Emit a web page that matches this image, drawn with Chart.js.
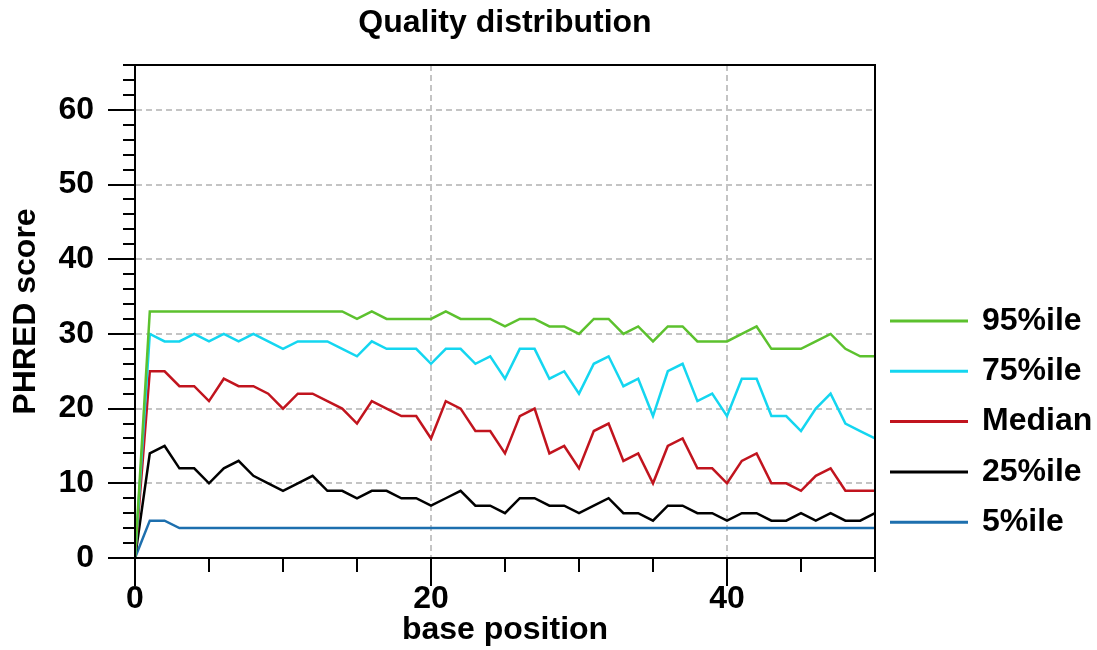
<!DOCTYPE html>
<html>
<head>
<meta charset="utf-8">
<script src="https://cdn.jsdelivr.net/npm/chart.js@4.4.0/dist/chart.umd.min.js"></script>
<style>
  body { margin: 0; background: #fff; }
  canvas { display: block; }
</style>
</head>
<body>
<canvas id="qualityChart" width="1097" height="650"></canvas>
<script>
// base positions (x axis)
const positions = [0, 1, 2, 3, 4, 5, 6, 7, 8, 9, 10, 11, 12, 13, 14, 15, 16, 17, 18, 19, 20,
  21, 22, 23, 24, 25, 26, 27, 28, 29, 30, 31, 32, 33, 34, 35, 36, 37, 38, 39, 40,
  41, 42, 43, 44, 45, 46, 47, 48, 49, 50];

// PHRED percentiles per position
const p95 = [0, 33, 33, 33, 33, 33, 33, 33, 33, 33, 33, 33, 33, 33, 33, 32, 33, 32, 32, 32, 32,
  33, 32, 32, 32, 31, 32, 32, 31, 31, 30, 32, 32, 30, 31, 29, 31, 31, 29, 29, 29,
  30, 31, 28, 28, 28, 29, 30, 28, 27, 27];
const p75 = [0, 30, 29, 29, 30, 29, 30, 29, 30, 29, 28, 29, 29, 29, 28, 27, 29, 28, 28, 28, 26,
  28, 28, 26, 27, 24, 28, 28, 24, 25, 22, 26, 27, 23, 24, 19, 25, 26, 21, 22, 19,
  24, 24, 19, 19, 17, 20, 22, 18, 17, 16];
const median = [0, 25, 25, 23, 23, 21, 24, 23, 23, 22, 20, 22, 22, 21, 20, 18, 21, 20, 19, 19, 16,
  21, 20, 17, 17, 14, 19, 20, 14, 15, 12, 17, 18, 13, 14, 10, 15, 16, 12, 12, 10,
  13, 14, 10, 10, 9, 11, 12, 9, 9, 9];
const p25 = [0, 14, 15, 12, 12, 10, 12, 13, 11, 10, 9, 10, 11, 9, 9, 8, 9, 9, 8, 8, 7,
  8, 9, 7, 7, 6, 8, 8, 7, 7, 6, 7, 8, 6, 6, 5, 7, 7, 6, 6, 5,
  6, 6, 5, 5, 6, 5, 6, 5, 5, 6];
const p5 = [0, 5, 5, 4, 4, 4, 4, 4, 4, 4, 4, 4, 4, 4, 4, 4, 4, 4, 4, 4, 4,
  4, 4, 4, 4, 4, 4, 4, 4, 4, 4, 4, 4, 4, 4, 4, 4, 4, 4, 4, 4,
  4, 4, 4, 4, 4, 4, 4, 4, 4, 4];

const seriesNames = ['95%ile', '75%ile', 'Median', '25%ile', '5%ile'];
const seriesValues = [p95, p75, median, p25, p5];
const seriesColors = ['#5cc12e', '#14d6f0', '#c1141e', '#000000', '#1d6fae'];

const FONT = '"Liberation Sans", Arial, Helvetica, sans-serif';
const GRID = '#c4c4c4';

function toPoints(vals) {
  return positions.map((p, i) => ({ x: p, y: vals[i] }));
}

// box round the plot, minor ticks, legend on the right
const decorations = {
  id: 'decorations',
  afterDraw(chart) {
    const { ctx, chartArea: a, scales } = chart;
    const xs = scales.x, ys = scales.y;
    ctx.save();
    ctx.strokeStyle = '#000';
    ctx.lineWidth = 2;
    ctx.strokeRect(a.left, a.top, a.right - a.left, a.bottom - a.top);

    ctx.beginPath();
    for (let v = 2; v <= 66; v += 2) {
      if (v % 10 === 0) continue;
      const y = Math.round(ys.getPixelForValue(v));
      ctx.moveTo(a.left - 12, y);
      ctx.lineTo(a.left, y);
    }
    for (let v = 5; v <= 50; v += 5) {
      if (v % 20 === 0) continue;
      const x = Math.round(xs.getPixelForValue(v));
      ctx.moveTo(x, a.bottom);
      ctx.lineTo(x, a.bottom + 14);
    }
    ctx.stroke();

    ctx.font = 'bold 32px ' + FONT;
    ctx.textBaseline = 'middle';
    ctx.textAlign = 'left';
    chart.data.datasets.forEach((ds, i) => {
      const y = 321 + i * 50.3;
      ctx.strokeStyle = ds.borderColor;
      ctx.lineWidth = 3;
      ctx.beginPath();
      ctx.moveTo(890, y);
      ctx.lineTo(968, y);
      ctx.stroke();
      ctx.fillStyle = '#000';
      ctx.fillText(ds.label, 982, y);
    });
    ctx.restore();
  }
};

new Chart(document.getElementById('qualityChart').getContext('2d'), {
  type: 'line',
  data: {
    datasets: seriesNames.map((name, i) => ({
      label: name,
      data: toPoints(seriesValues[i]),
      borderColor: seriesColors[i],
      borderWidth: 2.5,
      pointRadius: 0,
      tension: 0,
      fill: false
    }))
  },
  options: {
    responsive: false,
    animation: false,
    devicePixelRatio: 1,
    layout: { padding: { left: 0, right: 222, top: 0, bottom: 0 } },
    plugins: {
      legend: { display: false },
      tooltip: { enabled: false },
      title: {
        display: true,
        text: 'Quality distribution',
        color: '#000',
        fullSize: false,
        font: { family: FONT, size: 32, weight: 'bold', lineHeight: 1.2 },
        padding: { top: 4, bottom: 22.6 }
      }
    },
    scales: {
      x: {
        type: 'linear',
        min: 0,
        max: 50,
        afterFit(scale) { scale.height = 92; },
        ticks: {
          stepSize: 20,
          includeBounds: false,
          color: '#000',
          padding: -3,
          maxRotation: 0,
          font: { family: FONT, size: 32, weight: 'bold', lineHeight: 1 }
        },
        grid: {
          color: (c) => (c.tick && c.tick.value === 0 ? 'rgba(0,0,0,0)' : GRID),
          lineWidth: 2,
          tickColor: '#000',
          tickWidth: 2,
          tickLength: 28,
          tickBorderDash: []
        },
        border: { display: true, color: '#000', width: 2, dash: [6, 4] },
        title: {
          display: true,
          text: 'base position',
          color: '#000',
          font: { family: FONT, size: 32, weight: 'bold', lineHeight: 1.2 },
          padding: { top: 0, bottom: 1 }
        }
      },
      y: {
        min: 0,
        max: 66,
        afterFit(scale) { scale.width = 135; },
        ticks: {
          stepSize: 10,
          includeBounds: false,
          color: '#000',
          padding: 14,
          font: { family: FONT, size: 32, weight: 'bold', lineHeight: 1 }
        },
        grid: {
          color: (c) => (c.tick && c.tick.value === 0 ? 'rgba(0,0,0,0)' : GRID),
          lineWidth: 2,
          tickColor: '#000',
          tickWidth: 2,
          tickLength: 27,
          tickBorderDash: []
        },
        border: { display: true, color: '#000', width: 2, dash: [6, 4] },
        title: {
          display: true,
          text: 'PHRED score',
          color: '#000',
          font: { family: FONT, size: 32, weight: 'bold', lineHeight: 1.2 },
          padding: { top: 7, bottom: 0 }
        }
      }
    }
  },
  plugins: [decorations]
});
</script>
</body>
</html>
